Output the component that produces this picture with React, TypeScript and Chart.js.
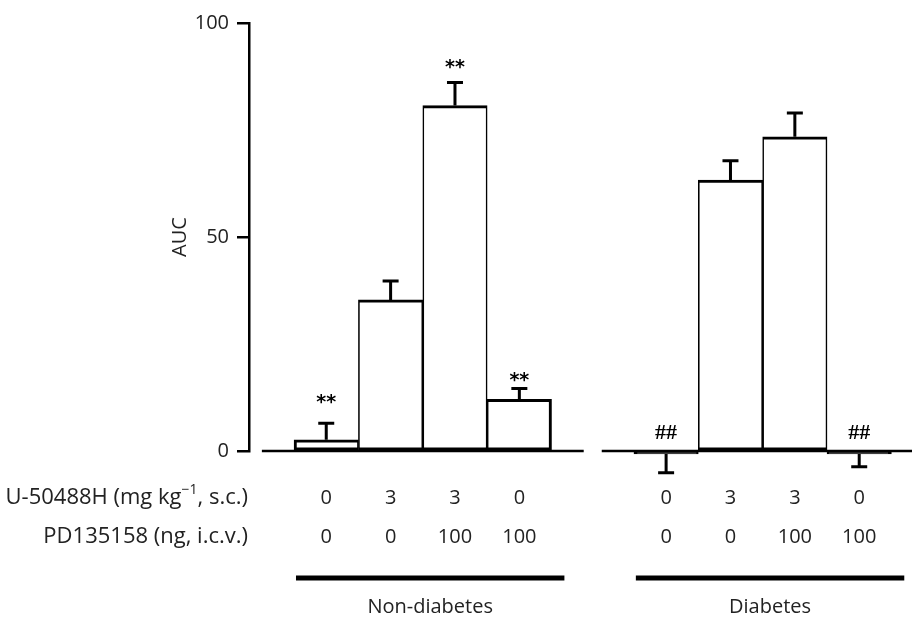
import React, { useEffect, useRef } from 'react';
import { Chart, registerables } from 'chart.js';

Chart.register(...registerables);

// ---------- data ----------
const GROUP_LABELS = ['Non-diabetes', 'Diabetes'];
const U50488H_DOSES = ['0', '3', '3', '0'];
const PD135158_DOSES = ['0', '0', '100', '100'];
const NON_DIABETES_AUC = [2.6, 35.3, 80.7, 12.1];
const NON_DIABETES_SEM = [3.9, 4.4, 5.4, 2.5];
const DIABETES_AUC = [-0.7, 63.3, 73.4, -0.7];
const DIABETES_SEM = [4.4, 4.5, 5.6, 3.0];
const NON_DIABETES_MARKS = ['**', '', '**', '**'];
const NON_DIABETES_MARK_LEVELS = [12.2, null, 90.5, 17.3];
const DIABETES_MARKS = ['##', '', '', '##'];
const DIABETES_MARK_LEVELS = [4.2, null, null, 4.2];
const Y_TICKS = [0, 50, 100];
const Y_TITLE = 'AUC';

// ---------- layout ----------
const GROUP_SHIFT = 5.28; // second group offset on the index axis
const X_MIN = -0.2;
const X_MAX = 10.1;
const FONT = '"Open Sans", "Noto Sans", sans-serif';
const TEXT_COLOR = '#222';

const MEANS = [NON_DIABETES_AUC, DIABETES_AUC];
const SEMS = [NON_DIABETES_SEM, DIABETES_SEM];
const MARKS = [NON_DIABETES_MARKS, DIABETES_MARKS];
const MARK_LEVELS = [NON_DIABETES_MARK_LEVELS, DIABETES_MARK_LEVELS];

const points: { x: number; y: number; g: number; i: number }[] = [];
MEANS.forEach((arr, g) =>
  arr.forEach((v, i) => points.push({ x: i + 1 + g * GROUP_SHIFT, y: v, g, i }))
);

const decorPlugin = {
  id: 'decor',
  afterDatasetsDraw(chart: any) {
    const ctx = chart.ctx;
    const xs = chart.scales.x;
    const ys = chart.scales.y;
    const y0 = ys.getPixelForValue(0);
    ctx.save();
    // baselines
    ctx.strokeStyle = '#000';
    ctx.lineWidth = 2.5;
    ctx.beginPath();
    ctx.moveTo(xs.getPixelForValue(0), y0);
    ctx.lineTo(xs.getPixelForValue(5), y0);
    ctx.moveTo(xs.getPixelForValue(GROUP_SHIFT), y0);
    ctx.lineTo(chart.width, y0);
    ctx.stroke();

    // error bars
    ctx.lineWidth = 3;
    const meta = chart.getDatasetMeta(0);
    meta.data.forEach((el: any, k: number) => {
      const p = points[k];
      const mean = MEANS[p.g][p.i];
      const sem = SEMS[p.g][p.i];
      const cx = el.x;
      const start = ys.getPixelForValue(mean);
      const end = ys.getPixelForValue(mean >= 0 ? mean + sem : mean - sem);
      ctx.beginPath();
      ctx.moveTo(cx, start);
      ctx.lineTo(cx, end);
      ctx.moveTo(cx - 8, end);
      ctx.lineTo(cx + 8, end);
      ctx.stroke();
      const mark = MARKS[p.g][p.i];
      const lvl = MARK_LEVELS[p.g][p.i];
      if (mark && lvl !== null) {
        ctx.fillStyle = '#000';
        ctx.textAlign = 'center';
        ctx.textBaseline = 'middle';
        if (mark === '**') {
          ctx.font = `bold 19px "DejaVu Sans", sans-serif`;
          ctx.fillText(mark, cx, ys.getPixelForValue(lvl) + 4);
        } else {
          ctx.font = `bold 22px "Liberation Serif", serif`;
          ctx.fillText(mark, cx, ys.getPixelForValue(lvl));
        }
      }
    });
    ctx.restore();
  },
  afterDraw(chart: any) {
    const ctx = chart.ctx;
    const xs = chart.scales.x;
    const bottom = chart.chartArea.bottom;
    const row1 = bottom + 47;
    const row2 = bottom + 86;
    const lineY = bottom + 127;
    const groupY = bottom + 156;
    const labelRight = 248;
    ctx.save();
    ctx.fillStyle = TEXT_COLOR;
    ctx.textBaseline = 'middle';
    const big = `20px ${FONT}`;
    const rowFont = `22px ${FONT}`;
    const small = `14px ${FONT}`;

    // row label 1 with superscript
    const parts = [
      { t: 'U-50488H (mg kg', f: rowFont, dy: 0 },
      { t: '\u22121', f: small, dy: -8 },
      { t: ', s.c.)', f: rowFont, dy: 0 },
    ];
    let total = 0;
    parts.forEach((p) => {
      ctx.font = p.f;
      total += ctx.measureText(p.t).width;
    });
    let x = labelRight - total;
    ctx.textAlign = 'left';
    parts.forEach((p) => {
      ctx.font = p.f;
      ctx.fillText(p.t, x, row1 + p.dy);
      x += ctx.measureText(p.t).width;
    });
    ctx.font = rowFont;
    ctx.textAlign = 'right';
    ctx.fillText('PD135158 (ng, i.c.v.)', labelRight, row2);

    // dose rows
    ctx.font = big;
    ctx.textAlign = 'center';
    points.forEach((p) => {
      const cx = xs.getPixelForValue(p.x);
      ctx.fillText(U50488H_DOSES[p.i], cx, row1);
      ctx.fillText(PD135158_DOSES[p.i], cx, row2);
    });

    // group lines and labels
    ctx.strokeStyle = '#000';
    ctx.lineWidth = 5;
    GROUP_LABELS.forEach((lab, g) => {
      const first = 1 + g * GROUP_SHIFT;
      const l = xs.getPixelForValue(first - 0.47);
      const r = xs.getPixelForValue(first + 3.7);
      ctx.beginPath();
      ctx.moveTo(l, lineY);
      ctx.lineTo(r, lineY);
      ctx.stroke();
      ctx.fillText(lab, (l + r) / 2, groupY);
    });
    ctx.restore();
  },
};

export default function App() {
  const ref = useRef<HTMLCanvasElement | null>(null);
  useEffect(() => {
    if (!ref.current) return;
    const chart = new Chart(ref.current, {
      type: 'bar',
      data: {
        datasets: [
          {
            data: points.map((p) => ({ x: p.x, y: p.y })),
            backgroundColor: (c: any) => ((c.raw && c.raw.y < 0) ? '#000' : '#fff'),
            borderColor: '#000',
            borderSkipped: false,
            borderWidth: (c: any) => {
              const i = c.dataIndex % 4;
              return { top: 3, bottom: 2.5, left: i === 0 ? 3 : 1.6, right: i === 3 ? 3 : 1.6 };
            },
            barPercentage: 1,
            categoryPercentage: 1,
            clip: false as any,
          } as any,
        ],
      },
      options: {
        animation: false,
        responsive: false,
        layout: { padding: { left: 0, right: 0, top: 23, bottom: 167 } },
        plugins: { legend: { display: false }, tooltip: { enabled: false } },
        scales: {
          x: { type: 'linear', min: X_MIN, max: X_MAX, offset: false, display: false },
          y: {
            min: 0,
            max: 100,
            afterBuildTicks: (axis: any) => {
              axis.ticks = Y_TICKS.map((v) => ({ value: v }));
            },
            afterFit: (axis: any) => {
              axis.width = 249;
            },
            ticks: {
              color: TEXT_COLOR,
              font: { family: FONT, size: 20 },
              padding: 8,
            },
            grid: {
              drawOnChartArea: false,
              drawTicks: true,
              tickLength: 12,
              lineWidth: 2.5,
              color: '#000',
            },
            border: { display: true, color: '#000', width: 2.5 },
            title: {
              display: true,
              text: Y_TITLE,
              color: TEXT_COLOR,
              font: { family: FONT, size: 20 },
              padding: { top: 168, bottom: 0 },
            },
          },
        },
      },
      plugins: [decorPlugin],
    } as any);
    return () => chart.destroy();
  }, []);
  return (
    <div style={{ position: 'absolute', left: 0, top: 0, width: 912, height: 618, background: '#fff' }}>
      <canvas ref={ref} width={912} height={618} />
    </div>
  );
}
